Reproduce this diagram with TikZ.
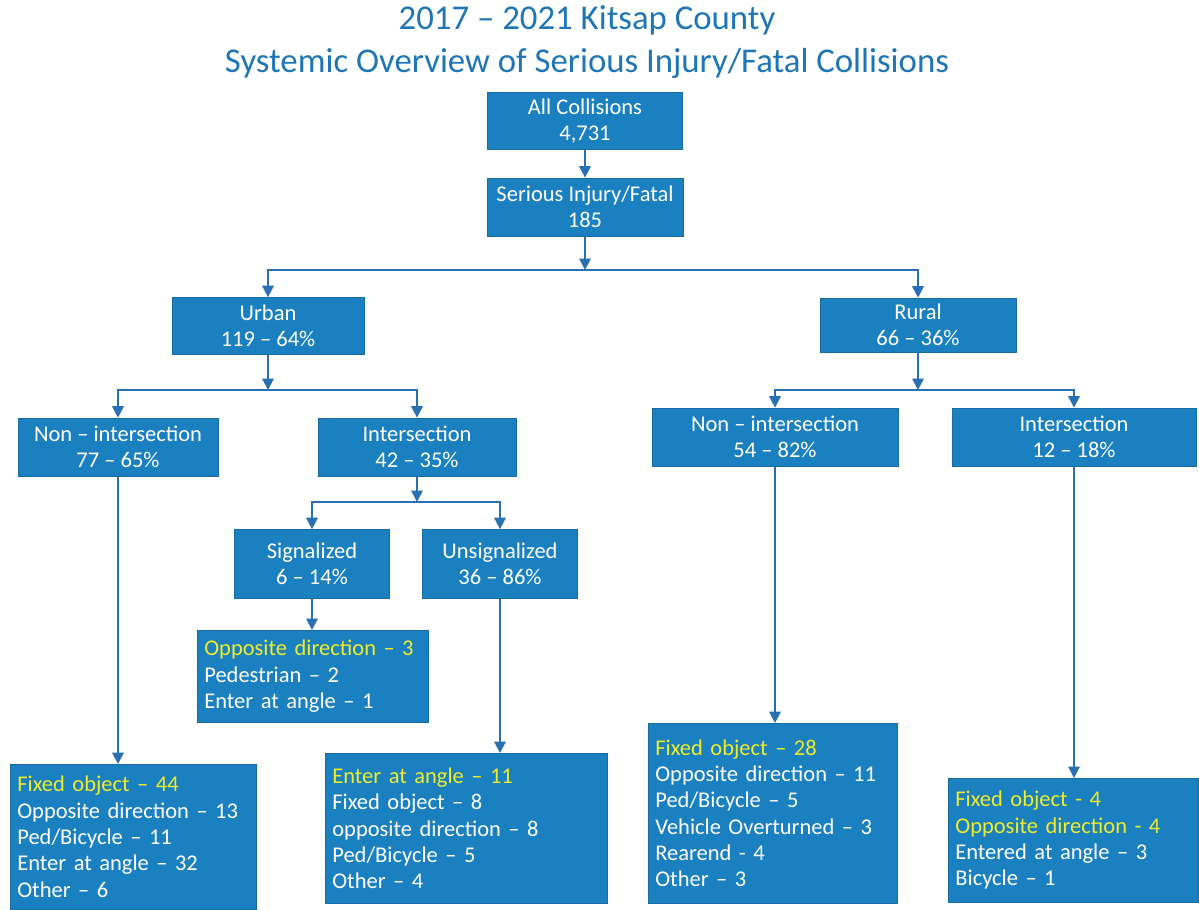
\documentclass[tikz,border=0pt]{standalone}
\usepackage{fontspec}
\setmainfont{Carlito}
\usetikzlibrary{arrows.meta}
\definecolor{boxblue}{RGB}{26,128,192}
\definecolor{lineblue}{RGB}{40,112,178}
\definecolor{titleblue}{RGB}{30,118,182}
\definecolor{hilite}{RGB}{240,236,40}
\tikzset{
  box/.style={fill=boxblue, draw=boxblue!85!black, line width=0.4pt, text=white,
    align=center, font=\fontsize{12.8}{15}\selectfont, inner sep=2pt},
  leaf/.style={box, anchor=north west, align=left, inner xsep=0.14cm},
  arr/.style={draw=lineblue, line width=1.1pt, -{Triangle[width=6.5pt,length=6.5pt]}},
}
\newcommand{\hl}[1]{\textcolor{hilite}{#1}}
\begin{document}
\begin{tikzpicture}[x=0.02cm, y=-0.02cm]
\useasboundingbox (0,0) rectangle (1199,909);
% title
\node[text=titleblue, font=\fontsize{19.8}{24}\selectfont, align=center] (title) at (587,42)
  {2017 – 2021 Kitsap County\\Systemic Overview of Serious Injury/Fatal Collisions};
% top of the tree
\node[box, minimum width=3.9cm, minimum height=1.14cm] (all) at (585,121) {All Collisions\\4,731};
\node[box, minimum width=3.92cm, minimum height=1.16cm] (sif) at (585,207) {Serious Injury/Fatal\\185};
\node[box, minimum width=3.84cm, minimum height=1.14cm] (urban) at (268,326) {Urban\\119 – 64\%};
\node[box, minimum width=3.92cm, minimum height=1.08cm] (rural) at (918,325) {Rural\\66 – 36\%};
% urban branch
\node[box, minimum width=4.0cm, minimum height=1.16cm] (unonint) at (118,447) {Non – intersection\\77 – 65\%};
\node[box, minimum width=3.96cm, minimum height=1.16cm] (uint) at (417,447) {Intersection\\42 – 35\%};
\node[box, minimum width=3.1cm, minimum height=1.38cm] (sig) at (312,564) {Signalized\\6 – 14\%};
\node[box, minimum width=3.1cm, minimum height=1.38cm] (unsig) at (500,564) {Unsignalized\\36 – 86\%};
% rural branch
\node[box, minimum width=4.92cm, minimum height=1.16cm] (rnonint) at (775,437) {Non – intersection\\54 – 82\%};
\node[box, minimum width=4.88cm, minimum height=1.16cm] (rint) at (1074,437) {Intersection\\12 – 18\%};
% leaves
\node[leaf, text width=4.34cm, minimum height=1.84cm] (sigleaf) at (197,630)
  {\hl{Opposite direction – 3}\\Pedestrian – 2\\Enter at angle – 1};
\node[leaf, text width=5.36cm, minimum height=3.0cm] (unsigleaf) at (325,753)
  {\hl{Enter at angle – 11}\\Fixed object – 8\\opposite direction – 8\\Ped/Bicycle – 5\\Other – 4};
\node[leaf, text width=4.64cm, minimum height=2.9cm] (unonleaf) at (10,764)
  {\hl{Fixed object – 44}\\Opposite direction – 13\\Ped/Bicycle – 11\\Enter at angle – 32\\Other – 6};
\node[leaf, text width=4.70cm, minimum height=3.6cm] (rnonleaf) at (648,723)
  {\hl{Fixed object – 28}\\Opposite direction – 11\\Ped/Bicycle – 5\\Vehicle Overturned – 3\\Rearend - 4\\Other – 3};
\node[leaf, text width=4.72cm, minimum height=2.48cm] (rintleaf) at (948,778)
  {\hl{Fixed object - 4}\\\hl{Opposite direction - 4}\\Entered at angle – 3\\Bicycle – 1};
% split points
\coordinate (topsplit) at (585,270);
\coordinate (usplit) at (268,390);
\coordinate (isplit) at (417,502);
\coordinate (rsplit) at (918,390);
% connectors
\draw[arr] (all) -- (sif);
\draw[arr] (sif) -- (topsplit);
\draw[arr] (topsplit) -| (urban);
\draw[arr] (topsplit) -| (rural);
\draw[arr] (urban) -- (usplit);
\draw[arr] (usplit) -| (unonint);
\draw[arr] (usplit) -| (uint);
\draw[arr] (uint) -- (isplit);
\draw[arr] (isplit) -| (sig);
\draw[arr] (isplit) -| (unsig);
\draw[arr] (rural) -- (rsplit);
\draw[arr] (rsplit) -| (rnonint);
\draw[arr] (rsplit) -| (rint);
\draw[arr] (sig.south) -- (sig.south |- sigleaf.north);
\draw[arr] (unsig.south) -- (unsig.south |- unsigleaf.north);
\draw[arr] (unonint.south) -- (unonint.south |- unonleaf.north);
\draw[arr] (rnonint.south) -- (rnonint.south |- rnonleaf.north);
\draw[arr] (rint.south) -- (rint.south |- rintleaf.north);
\end{tikzpicture}
\end{document}
